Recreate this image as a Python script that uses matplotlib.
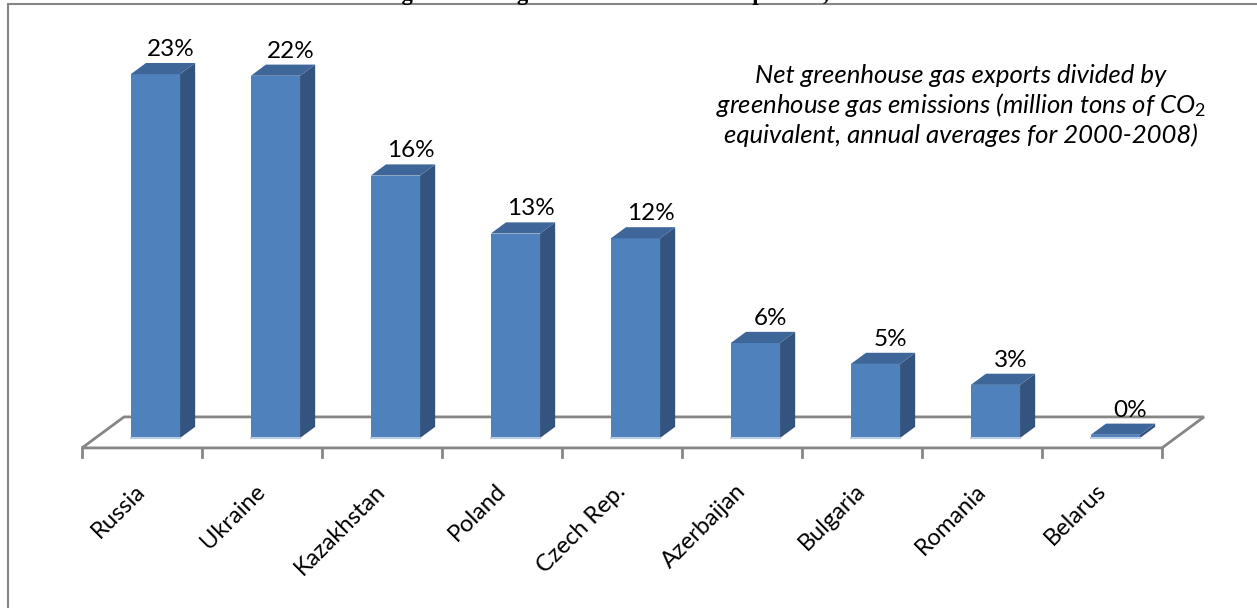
import matplotlib
matplotlib.use("Agg")
import matplotlib.pyplot as plt
from matplotlib.patches import Polygon, Rectangle

countries = ['Russia', 'Ukraine', 'Kazakhstan', 'Poland', 'Czech Rep.',
             'Azerbaijan', 'Bulgaria', 'Romania', 'Belarus']
shares = [22.6, 22.5, 16.3, 12.7, 12.4, 5.9, 4.6, 3.3, 0.2]
share_labels = ['23%', '22%', '16%', '13%', '12%', '6%', '5%', '3%', '0%']
note = ("Net greenhouse gas exports divided by\n"
        "greenhouse gas emissions (million tons of CO$_2$\n"
        "equivalent, annual averages for 2000-2008)")
title = "Main greenhouse gas emissions and net exporters, 2000-2008"

plt.rcParams['font.family'] = ['Lato', 'DejaVu Sans']
plt.rcParams['mathtext.fontset'] = 'custom'
plt.rcParams['mathtext.rm'] = 'Lato'
plt.rcParams['mathtext.it'] = 'Lato:italic'

FRONT = '#4F81BD'
TOP = '#3E6699'
SIDE = '#33547E'
GRID = '#868686'

# fake 3d: one unit of depth moves this much in data units
DX, DY = 0.35, 1.925
D_FRONT, D_BACK = 0.32, 0.68
W = 0.41

def proj(x, v, d):
    return (x + DX * d, v + DY * (d - D_FRONT))

fig = plt.figure(figsize=(12.57, 6.08), dpi=100)
ax = fig.add_axes([0, 0, 1, 1])
ax.set_xlim(-82 / 120, (1257 - 82) / 120)
ax.set_ylim((438 - 608) / 16.1, 438 / 16.1)
ax.axis('off')

n = len(countries)

# floor
floor = [proj(0, 0, 0), proj(n, 0, 0), proj(n, 0, 1), proj(0, 0, 1)]
ax.add_patch(Polygon(floor, closed=True, facecolor='white', edgecolor=GRID, lw=2, zorder=1))
for i in range(n + 1):
    x0, y0 = proj(i, 0, 0)
    ax.plot([x0, x0], [y0, y0 - 0.56], color=GRID, lw=2, zorder=1)

# bars
for i, (v, lab) in enumerate(zip(shares, share_labels)):
    c = i + 0.5
    xl, xr = c - W / 2, c + W / 2
    front = [proj(xl, 0, D_FRONT), proj(xr, 0, D_FRONT), proj(xr, v, D_FRONT), proj(xl, v, D_FRONT)]
    side = [proj(xr, 0, D_FRONT), proj(xr, 0, D_BACK), proj(xr, v, D_BACK), proj(xr, v, D_FRONT)]
    top = [proj(xl, v, D_FRONT), proj(xr, v, D_FRONT), proj(xr, v, D_BACK), proj(xl, v, D_BACK)]
    ax.add_patch(Polygon(side, closed=True, facecolor=SIDE, edgecolor='none', zorder=2))
    ax.add_patch(Polygon(front, closed=True, facecolor=FRONT, edgecolor='none', zorder=2))
    ax.add_patch(Polygon(top, closed=True, facecolor=TOP, edgecolor='none', zorder=2))
    bx, by = proj(xl, 0, D_FRONT)
    ax.plot([bx, bx + W], [by, by], color='#B9CDE5', lw=1.5, zorder=3)
    ax.annotate(lab, xy=proj(c, v, D_BACK), xytext=(0, 5), textcoords='offset points',
                ha='center', va='baseline', fontsize=17.5, zorder=4)

# category labels
for i, name in enumerate(countries):
    x0, y0 = proj(i + 0.5, 0, 0)
    ax.text(x0 - 0.06, y0 - 2.0, name, rotation=45, rotation_mode='anchor',
            ha='right', va='top', fontsize=17)

ax.text(961 / 120 - 82 / 120, (438 - 105.5) / 16.1, note, style='italic', fontsize=18.5,
        ha='center', va='center', linespacing=1.2)

fig.text(344 / 1257, 1.0, title, ha='left', va='baseline', fontsize=16.4,
         family='Liberation Serif', weight='bold')
fig.patches.append(Rectangle((8 / 1257, -0.1), 1.2, 0.1 + (608 - 4) / 608,
                             transform=fig.transFigure, fill=False,
                             edgecolor=GRID, lw=1.5))

fig.savefig('out.png', dpi=100, facecolor='white')
